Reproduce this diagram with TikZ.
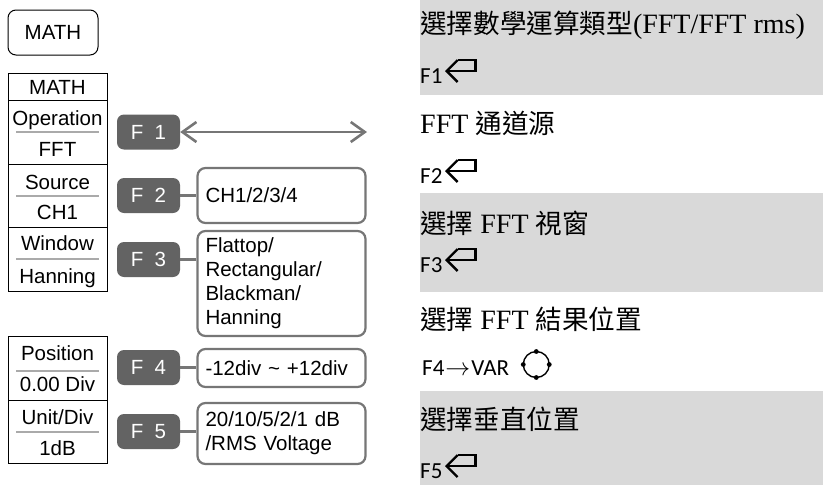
\documentclass[tikz,border=0pt]{standalone}
\usepackage{fontspec}
\setmainfont{Liberation Serif}
\setsansfont{Liberation Sans}
\newfontfamily\cjk{Noto Sans CJK TC}[Scale=0.95]
\newfontfamily\keyfont{Carlito}
\usetikzlibrary{arrows.meta}

% Colors (grayscale panel look)
\definecolor{keygray}{RGB}{99,99,99}
\definecolor{wiregray}{RGB}{118,118,118}
\definecolor{sepgray}{RGB}{170,170,170}
\definecolor{bandgray}{RGB}{217,217,217}

\newcommand{\zh}[1]{{\cjk #1}}
% return-key glyph right after a key label
\newcommand{\retkey}[1]{%
  \coordinate (#1tip) at ([shift={(4,-12)}]#1.base east);
  \draw[retline] ([shift={(11,-11)}]#1tip) -- (#1tip) -- ([shift={(11,11)}]#1tip);
  \draw[retline] (#1tip) -- ++(29,0) -- ++(0,-11) -- ++(-18,0);}

\tikzset{
  menutxt/.style={font=\sffamily\fontsize{20.5}{22}\selectfont, inner sep=0pt, text height=14.5pt, text depth=0pt},
  sepline/.style={draw=sepgray, line width=1.4pt},
  fkey/.style={fill=keygray, rounded corners=7pt, minimum width=63pt, minimum height=35pt,
    text=white, font=\sffamily\fontsize{20.5}{22}\selectfont, inner sep=0pt, text height=14.5pt, text depth=0pt},
  optbox/.style={draw=wiregray, line width=2.2pt, rounded corners=8pt, fill=white, text width=152pt,
    inner xsep=8pt, inner ysep=0pt, align=left, font=\sffamily\fontsize{20.5}{24}\selectfont},
  wire/.style={draw=wiregray, line width=2.2pt},
  barb/.tip={Straight Barb[length=14pt,width=20pt]},
  desc/.style={anchor=base west, inner sep=0pt, font=\fontsize{28}{30}\selectfont},
  keytxt/.style={anchor=base west, inner sep=0pt, font=\keyfont\fontsize{23}{26}\selectfont},
  retline/.style={draw=black, line width=2.3pt, line join=miter},
}

\begin{document}
\begin{tikzpicture}[x=1pt, y=-1pt]

  \useasboundingbox (0,0) rectangle (823,485);

  % --- right column: gray bands behind the steps ---
  \fill[bandgray] (420,0) rectangle (823,95);
  \fill[bandgray] (420,193) rectangle (823,292);
  \fill[bandgray] (420,391) rectangle (823,485);

  % --- front panel key ---
  \node[draw, line width=1pt, rounded corners=8pt, minimum width=90pt, minimum height=45pt,
    font=\sffamily\fontsize{20.5}{22}\selectfont] (mathkey) at (53,32.5) {MATH};

  % --- soft menu table ---
  \draw[line width=1pt] (8,73) rectangle (107,291);
  \draw[line width=1pt] (8,100) -- (107,100);
  \draw[line width=1pt] (8,164) -- (107,164);
  \draw[line width=1pt] (8,227) -- (107,227);
  \draw[sepline] (16,132) -- (99,132);
  \draw[sepline] (16,196) -- (99,196);
  \draw[sepline] (16,259) -- (99,259);

  \node[menutxt] (mtitle) at (57.5,87) {MATH};
  \node[menutxt] (mop) at (57.5,118) {Operation};
  \node[menutxt] (mopv) at (57.5,149) {FFT};
  \node[menutxt] (msrc) at (57.5,182) {Source};
  \node[menutxt] (msrcv) at (57.5,212) {CH1};
  \node[menutxt] (mwin) at (57.5,243) {Window};
  \node[menutxt] (mwinv) at (57.5,276) {Hanning};

  % lower table
  \draw[line width=1pt] (8,336) rectangle (107,463);
  \draw[line width=1pt] (8,400) -- (107,400);
  \draw[sepline] (16,371) -- (99,371);
  \draw[sepline] (16,432) -- (99,432);

  \node[menutxt] (mpos) at (57.5,353) {Position};
  \node[menutxt] (mposv) at (57.5,384) {0.00 Div};
  \node[menutxt] (munit) at (57.5,417) {Unit/Div};
  \node[menutxt] (munitv) at (57.5,448) {1dB};

  % --- function keys ---
  \node[fkey] (f1) at (148.5,132) {F\ \ 1};
  \node[fkey] (f2) at (148.5,195.5) {F\ \ 2};
  \node[fkey] (f3) at (148.5,259.5) {F\ \ 3};
  \node[fkey] (f4) at (148.5,367.5) {F\ \ 4};
  \node[fkey] (f5) at (148.5,431.5) {F\ \ 5};

  % --- option boxes ---
  \node[optbox, minimum height=55pt] (opt2) at (281.5,195.5) {CH1/2/3/4};
  \node[optbox, minimum height=105pt] (opt3) at (281.5,283.5) {Flattop/\\Rectangular/\\Blackman/\\Hanning};
  \node[optbox, minimum height=38pt] (opt4) at (281.5,368) {-12div \textasciitilde{} +12div};
  \node[optbox, minimum height=61pt] (opt5) at (281.5,433.5) {20/10/5/2/1 dB\\/RMS Voltage};

  % --- connectors ---
  \coordinate (f1end) at (367,132);
  \draw[wire, line width=2.6pt, barb-barb] (f1.east) -- (f1end);
  \draw[wire] (f2.east) -- (f2.east -| opt2.west);
  \draw[wire] (f3.east) -- (f3.east -| opt3.west);
  \draw[wire] (f4.east) -- (f4.east -| opt4.west);
  \draw[wire] (f5.east) -- (f5.east -| opt5.west);

  % --- right column: steps ---
  \node[desc] (d1) at (420,33) {\zh{選擇數學運算類型}(FFT/FFT rms)};
  \node[keytxt] (k1) at (420,83) {F1};
  \retkey{k1}
  \node[desc] (d2) at (420,133) {FFT \zh{通道源}};
  \node[keytxt] (k2) at (420,183) {F2};
  \retkey{k2}
  \node[desc] (d3) at (420,233) {\zh{選擇} FFT \zh{視窗}};
  \node[keytxt] (k3) at (420,272) {F3};
  \retkey{k3}
  \node[desc] (d4) at (420,329) {\zh{選擇} FFT \zh{結果位置}};
  \node[keytxt] (k4) at (422,375) {F4\kern1pt$\rightarrow$\kern1ptVAR};
  % VAR knob
  \coordinate (knobc) at ([shift={(27,-10.5)}]k4.base east);
  \draw[line width=1.4pt] (knobc) circle (13pt);
  \fill (knobc) ++(0,-13) circle (2.4pt);
  \fill (knobc) ++(0,13) circle (2.4pt);
  \fill (knobc) ++(-13,0) circle (2.4pt);
  \fill (knobc) ++(13,0) circle (2.4pt);
  \node[desc] (d5) at (420,429) {\zh{選擇垂直位置}};
  \node[keytxt] (k5) at (420,478) {F5};
  \retkey{k5}

\end{tikzpicture}
\end{document}
